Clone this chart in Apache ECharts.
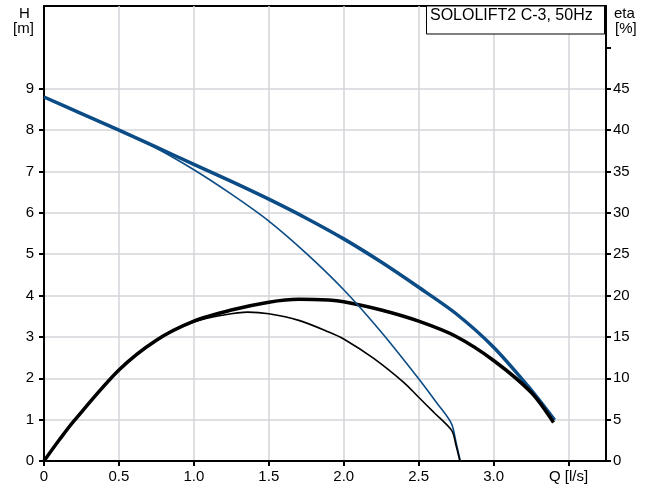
<!DOCTYPE html>
<html>
<head>
<meta charset="utf-8">
<script src="https://cdn.jsdelivr.net/npm/echarts@6/dist/echarts.min.js"></script>
<style>
html,body{margin:0;padding:0;background:#fff;}
#c{width:649px;height:487px;}
</style>
</head>
<body>
<div id="c"></div>
<script>
// Q [l/s] ticks and labels
var qTicks = [0, 0.5, 1.0, 1.5, 2.0, 2.5, 3.0, 3.5];
var hLabels = [0, 1, 2, 3, 4, 5, 6, 7, 8, 9];
var etaTicks = [0, 5, 10, 15, 20, 25, 30, 35, 40, 45, 50];
var etaLabels = [0, 5, 10, 15, 20, 25, 30, 35, 40, 45];

// H curve (full, thick blue)
var hFullQ = [0, 0.25, 0.5, 0.75, 1.0, 1.25, 1.5, 1.75, 2.0, 2.25, 2.5, 2.75, 3.0, 3.25, 3.407];
var hFullH = [8.8, 8.4, 8.0, 7.59, 7.17, 6.76, 6.33, 5.87, 5.37, 4.81, 4.2, 3.56, 2.75, 1.72, 0.99];

// H curve (thin blue)
var hThinQ = [0, 0.25, 0.5, 0.75, 1.0, 1.25, 1.5, 1.75, 2.0, 2.25, 2.5, 2.62, 2.718, 2.75, 2.778];
var hThinH = [8.8, 8.4, 8.0, 7.56, 7.04, 6.45, 5.80, 5.02, 4.14, 3.12, 1.99, 1.41, 0.91, 0.44, 0];

// eta curve (full, thick black) in %
var etaFullQ = [0, 0.1, 0.2, 0.5, 0.75, 1.0, 1.25, 1.5, 1.7, 1.9, 2.0, 2.25, 2.5, 2.75, 3.0, 3.25, 3.4];
var etaFullE = [0, 2.5, 4.85, 11.0, 14.6, 16.9, 18.25, 19.2, 19.55, 19.45, 19.25, 18.25, 16.9, 15.05, 12.15, 8.3, 4.65];

// eta curve (thin black) in %
var etaThinQ = [0, 0.1, 0.2, 0.5, 0.75, 1.0, 1.2, 1.36, 1.5, 1.7, 1.9, 2.0, 2.2, 2.4, 2.5, 2.6, 2.72, 2.75, 2.775];
var etaThinE = [0, 2.5, 4.85, 11.0, 14.6, 16.8, 17.65, 18.0, 17.8, 17.0, 15.6, 14.75, 12.4, 9.5, 7.7, 5.9, 3.7, 1.85, 0];

function pairs(xs, ys) { return xs.map(function (x, i) { return [x, ys[i]]; }); }

var blue = '#0b4c86';
var FONT = 'Liberation Sans';

var chart = echarts.init(document.getElementById('c'));
chart.setOption({
  animation: false,
  backgroundColor: '#fff',
  textStyle: { fontFamily: FONT },
  grid: {
    left: 44, right: 43, top: 6, bottom: 26,
    show: true, borderColor: '#000', borderWidth: 2, backgroundColor: 'transparent'
  },
  xAxis: {
    type: 'value', min: 0, max: 3.75, interval: 0.5,
    axisLine: { show: true, onZero: false, lineStyle: { color: '#000', width: 2 } },
    axisTick: { show: true, length: 5, customValues: qTicks, lineStyle: { color: '#000', width: 2 } },
    axisLabel: {
      customValues: qTicks, color: '#000', fontSize: 15, fontFamily: FONT, margin: 8,
      formatter: function (v) { return v === 3.5 ? 'Q [l/s]' : (v === 0 ? '0' : v.toFixed(1)); }
    },
    splitLine: { show: true, lineStyle: { color: '#d2d5d8', width: 1.5 } }
  },
  yAxis: [{
    type: 'value', min: 0, max: 11, interval: 1, position: 'left',
    axisLine: { show: true, onZero: false, lineStyle: { color: '#000', width: 2 } },
    axisTick: { show: true, length: 5, customValues: hLabels, lineStyle: { color: '#000', width: 2 } },
    axisLabel: { customValues: hLabels, color: '#000', fontSize: 15, fontFamily: FONT, margin: 10 },
    splitLine: { show: true, lineStyle: { color: '#d2d5d8', width: 1.5 } }
  }, {
    type: 'value', min: 0, max: 55, interval: 5, position: 'right',
    axisLine: { show: true, onZero: false, lineStyle: { color: '#000', width: 2 } },
    axisTick: { show: true, length: 5, customValues: etaTicks, lineStyle: { color: '#000', width: 2 } },
    axisLabel: { customValues: etaLabels, color: '#000', fontSize: 15, fontFamily: FONT, margin: 7 },
    splitLine: { show: false }
  }],
  series: [{
    type: 'line', yAxisIndex: 0, data: pairs(hFullQ, hFullH),
    smooth: 0.3, showSymbol: false,
    lineStyle: { color: blue, width: 3.5 }, z: 3
  }, {
    type: 'line', yAxisIndex: 0, data: pairs(hThinQ, hThinH),
    smooth: 0.3, showSymbol: false,
    lineStyle: { color: blue, width: 1.6 }, z: 4
  }, {
    type: 'line', yAxisIndex: 1, data: pairs(etaFullQ, etaFullE),
    smooth: 0.3, showSymbol: false,
    lineStyle: { color: '#000', width: 3.5 }, z: 3
  }, {
    type: 'line', yAxisIndex: 1, data: pairs(etaThinQ, etaThinE),
    smooth: 0.3, showSymbol: false,
    lineStyle: { color: '#000', width: 1.6 }, z: 4
  }],
  graphic: [
    { type: 'text', left: 19, top: 6, style: { text: 'H', font: '15px "Liberation Sans"', fill: '#000' } },
    { type: 'text', left: 13, top: 21, style: { text: '[m]', font: '15px "Liberation Sans"', fill: '#000' } },
    { type: 'text', left: 614, top: 6, style: { text: 'eta', font: '15px "Liberation Sans"', fill: '#000' } },
    { type: 'text', left: 615, top: 21, style: { text: '[%]', font: '15px "Liberation Sans"', fill: '#000' } },
    { type: 'rect', shape: { x: 426.5, y: 6, width: 178, height: 28 }, style: { fill: '#fff', stroke: '#000', lineWidth: 1 }, z: 10 },
    { type: 'text', x: 430, y: 8, style: { text: 'SOLOLIFT2 C-3, 50Hz', font: '16px "Liberation Sans"', fill: '#000' }, z: 11 }
  ]
});
</script>
</body>
</html>
